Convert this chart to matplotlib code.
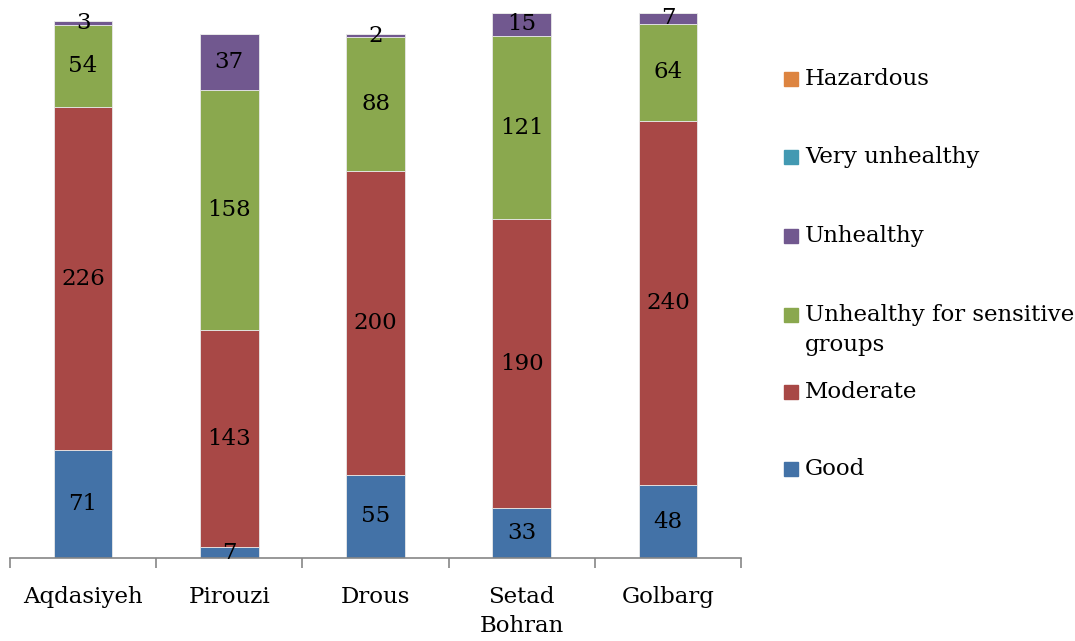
import matplotlib
matplotlib.use("Agg")
import matplotlib.pyplot as plt
from matplotlib.patches import Rectangle
import numpy as np

categories = ["Aqdasiyeh", "Pirouzi", "Drous", "Setad\nBohran", "Golbarg"]
good = [71, 7, 55, 33, 48]
moderate = [226, 143, 200, 190, 240]
sensitive = [54, 158, 88, 121, 64]
unhealthy = [3, 37, 2, 15, 7]
very_unhealthy = [0, 0, 0, 0, 0]
hazardous = [0, 0, 0, 0, 0]

series = [
    ("Good", good, "#4372A7"),
    ("Moderate", moderate, "#A84846"),
    ("Unhealthy for sensitive\ngroups", sensitive, "#8AA84E"),
    ("Unhealthy", unhealthy, "#71588F"),
    ("Very unhealthy", very_unhealthy, "#4299B2"),
    ("Hazardous", hazardous, "#DD8440"),
]

plt.rcParams['font.family'] = ['DejaVu Serif']
fig = plt.figure(figsize=(10.75, 6.41), dpi=100)
ax = fig.add_axes([10/1075, 83/641, 731/1075, 546.5/641])

x = np.arange(len(categories))
bottom = np.zeros(len(categories))
for name, vals, col in series:
    vals = np.array(vals, dtype=float)
    ax.bar(x, vals, 0.4, bottom=bottom, color=col, edgecolor="#e8e8e8", linewidth=0.6)
    for xi, b, v in zip(x, bottom, vals):
        if v > 0:
            ax.text(xi, b + v / 2, f"{int(v)}", ha="center", va="center", fontsize=16.5, color="black")
    bottom += vals

ax.set_xlim(-0.5, len(categories) - 0.5)
ax.set_ylim(0, 360)
for s in ["top", "right", "left"]:
    ax.spines[s].set_visible(False)
ax.spines["bottom"].set_color("#868686")
ax.spines["bottom"].set_linewidth(1.2)
ax.set_yticks([])
ax.set_xticks(np.arange(-0.5, len(categories), 1.0))
ax.set_xticklabels([])
ax.tick_params(axis="x", which="major", length=7, color="#868686", width=1.2)
ax.set_xticks(x, minor=True)
ax.set_xticklabels(categories, minor=True, fontsize=16.5, linespacing=1.45)
ax.tick_params(axis="x", which="minor", length=0, pad=20)

# Legend (manual, Excel-like layout)
legend_y = [469, 392, 315, 236, 157, 79]
for (name, vals, col), yy in zip(series, legend_y):
    fig.patches.append(Rectangle((784/1075, 1 - (yy + 7)/641), 14/1075, 14/641,
                                 transform=fig.transFigure, color=col))
    if "\n" in name:
        fig.text(805/1075, 1 - (yy - 11)/641, name, fontsize=16.5, va="top", ha="left",
                 linespacing=1.5)
    else:
        fig.text(805/1075, 1 - yy/641, name, fontsize=16.5, va="center", ha="left")

fig.savefig("out.png", dpi=100)
